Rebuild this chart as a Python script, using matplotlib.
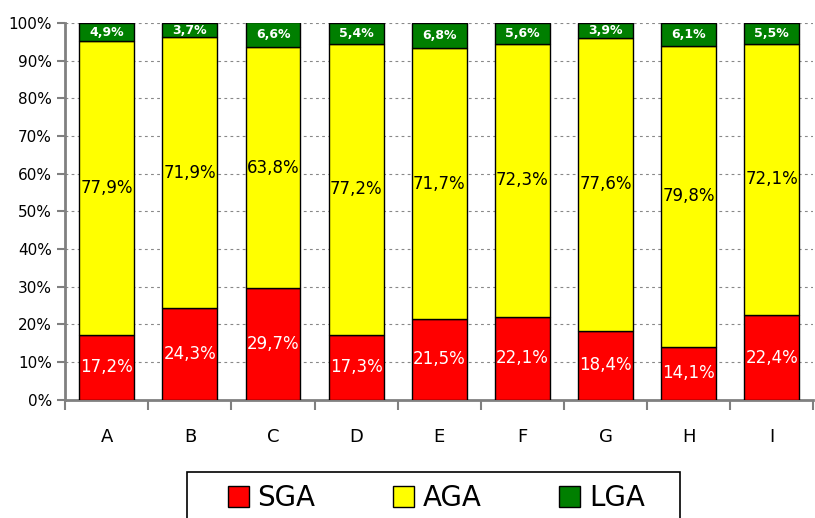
import numpy as np
import matplotlib
matplotlib.use("Agg")
import matplotlib.pyplot as plt
from matplotlib.ticker import FixedLocator
from matplotlib.patches import Rectangle

# data
cats = ["A", "B", "C", "D", "E", "F", "G", "H", "I"]
sga = [17.2, 24.3, 29.7, 17.3, 21.5, 22.1, 18.4, 14.1, 22.4]
aga = [77.9, 71.9, 63.8, 77.2, 71.7, 72.3, 77.6, 79.8, 72.1]
lga = [4.9, 3.7, 6.6, 5.4, 6.8, 5.6, 3.9, 6.1, 5.5]

fig = plt.figure(figsize=(8.15, 5.18), dpi=100)
ax = fig.add_axes([0.08, 0.228, 0.918, 0.728])

x = np.arange(len(cats))
sga = np.array(sga)
aga = np.array(aga)
lga = np.array(lga)
w = 0.66
b1 = ax.bar(x, sga, w, color="#ff0000", edgecolor="black", linewidth=1, label="SGA", zorder=3)
b2 = ax.bar(x, aga, w, bottom=sga, color="#ffff00", edgecolor="black", linewidth=1, label="AGA", zorder=3)
b3 = ax.bar(x, lga, w, bottom=sga + aga, color="#007f00", edgecolor="black", linewidth=1, label="LGA", zorder=3)

def fmt(v):
    return f"{v:.1f}%".replace(".", ",")

for i in range(len(cats)):
    ax.text(x[i], sga[i] / 2, fmt(sga[i]), ha="center", va="center", color="white", fontsize=12, zorder=4)
    ax.text(x[i], sga[i] + aga[i] / 2, fmt(aga[i]), ha="center", va="center", color="black", fontsize=12, zorder=4)
    ax.text(x[i], sga[i] + aga[i] + lga[i] / 2, fmt(lga[i]), ha="center", va="center", color="white",
            fontsize=9, fontweight="bold", zorder=4)

ax.set_xlim(-0.5, len(cats) - 0.5)
ax.set_ylim(0, 100)
ax.set_yticks(np.arange(0, 101, 10))
ax.set_yticklabels([f"{v}%" for v in range(0, 101, 10)], fontsize=11)
ax.yaxis.grid(True, linestyle=(0, (2.5, 3)), color="#888888", linewidth=0.8, zorder=0)

ax.set_xticks(x)
ax.set_xticklabels(cats, fontsize=13)
ax.tick_params(axis="x", length=0, pad=20)
ax.xaxis.set_minor_locator(FixedLocator(np.arange(-0.5, len(cats), 1)))
ax.tick_params(axis="x", which="minor", length=7, color="#808080", width=1.5)
ax.tick_params(axis="y", length=6, color="#808080", width=1.5)

for s in ["top", "right"]:
    ax.spines[s].set_visible(False)
for s in ["left", "bottom"]:
    ax.spines[s].set_color("#808080")
    ax.spines[s].set_linewidth(2)

# legend frame (runs off the bottom of the image like the original)
fig.patches.append(Rectangle((187 / 815, -0.05), (680 - 187) / 815, 0.05 + (518 - 472) / 518,
                             transform=fig.transFigure, fill=False, edgecolor="black", linewidth=1.2))
leg = fig.legend(handles=[b1, b2, b3], labels=["SGA", "AGA", "LGA"], ncol=3,
                 loc="upper left", bbox_to_anchor=(228 / 815, 1 - 484 / 518), borderaxespad=0, fontsize=20,
                 frameon=False, columnspacing=2.8,
                 handlelength=0.76, handleheight=0.76, borderpad=0, handletextpad=0.3)

fig.savefig("out.png", dpi=100)
